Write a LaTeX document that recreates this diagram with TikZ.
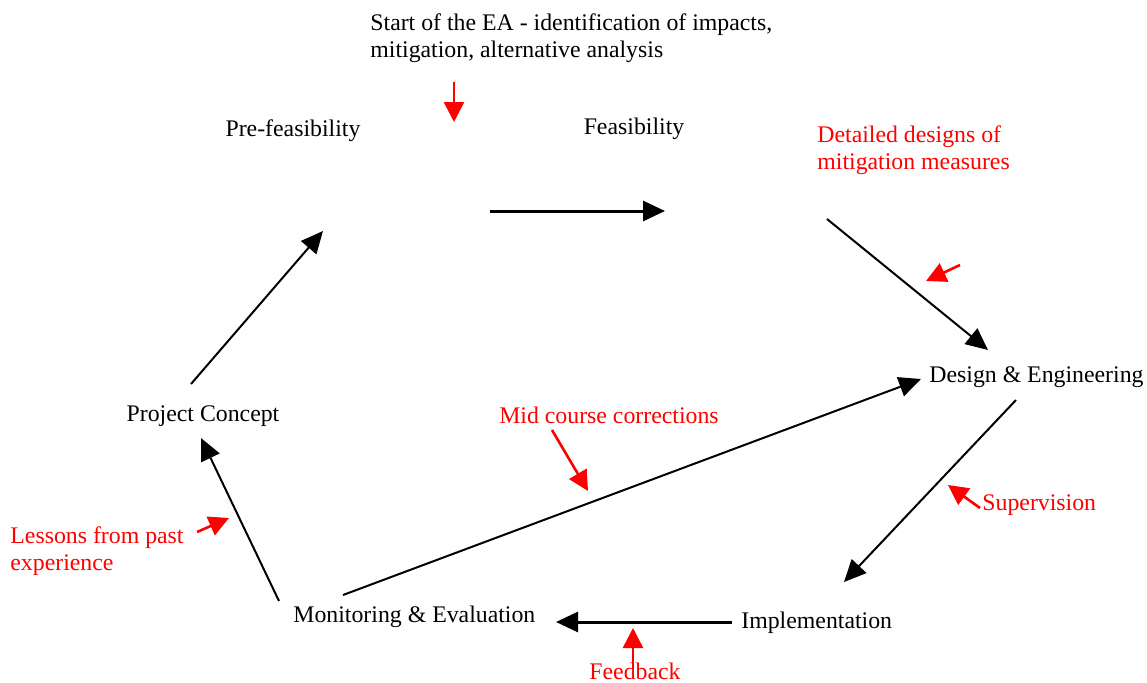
\documentclass[tikz,border=0pt]{standalone}
\usepackage{fontspec}
\setmainfont{Liberation Serif}
\usetikzlibrary{arrows.meta,calc}

\begin{document}
\begin{tikzpicture}[x=0.5pt,y=-0.5pt]
		\tikzstyle{etape} = [inner sep=0pt,font=\fontsize{11.9}{13.5}\selectfont]
		\tikzstyle{note} = [etape,text=red,align=left]
		\tikzstyle{fleche} = [->,>={Triangle[length=11pt,width=10pt]},line width=1pt]
		\tikzstyle{grosse} = [fleche,line width=1.5pt]
		\tikzstyle{flecherouge} = [->,>={Triangle[length=10pt,width=10pt]},red,line width=1.3pt]

		\useasboundingbox (0,0) rectangle (1147,682);

		% stages
		\node[etape](PF) at (293,131) {Pre-feasibility};
		\node[etape](FE) at (634,129) {Feasibility};
		\node[etape,anchor=west](DE) at (929,377) {Design \& Engineering};
		\node[etape,anchor=west](IM) at (741,623) {Implementation};
		\node[etape,anchor=west](ME) at (293,617) {Monitoring \& Evaluation};
		\node[etape](PC) at (203,416) {Project Concept};

		% notes
		\node[etape,align=left,anchor=west](EA) at (370,38) {Start of the EA - identification of impacts,\\mitigation, alternative analysis};
		\node[note,anchor=west](DD) at (817,150) {Detailed designs of\\mitigation measures};
		\node[note](MC) at (609,415) {Mid course corrections};
		\node[note,anchor=west](SU) at (982,505) {Supervision};
		\node[note,anchor=west](LE) at (10,551) {Lessons from past\\experience};
		\node[note](FB) at (635,671) {Feedback};

		\draw[fleche] ($(PC)+(-12,-32)$) -- ($(PF)+(30,100)$);
		\draw[grosse] ($(PF)+(197,80)$) -- ($(FE)+(31,82)$);
		\draw[fleche] ($(FE)+(193,90)$) -- ($(DE.west)+(59,-27)$);
		\draw[fleche] ($(DE.west)+(87,23)$) -- ($(IM.west)+(103,-41)$);
		\draw[grosse] ($(IM.west)+(-9,-1)$) -- ($(ME.west)+(263,5)$);
		\draw[fleche] ($(ME.west)+(50,-22)$) -- ($(DE.west)+(-8,2)$);
		\draw[fleche] ($(ME.west)+(-14,-16)$) -- ($(PC)+(-2,22)$);

		\draw[flecherouge] ($(EA.west)+(84,44)$) -- ($(EA.west)+(84,84)$);
		\draw[flecherouge] ($(DD.west)+(143,115)$) -- ($(DD.west)+(109,131)$);
		\draw[flecherouge] ($(MC)+(-57,15)$) -- ($(MC)+(-21,76)$);
		\draw[flecherouge] ($(SU.west)+(-2,3)$) -- ($(SU.west)+(-34,-20)$);
		\draw[flecherouge] ($(LE.west)+(187,-19)$) -- ($(LE.west)+(219,-33)$);
		\draw[flecherouge] ($(FB)+(-2,-3)$) -- ($(FB)+(-2,-43)$);

		\end{tikzpicture}
\end{document}
